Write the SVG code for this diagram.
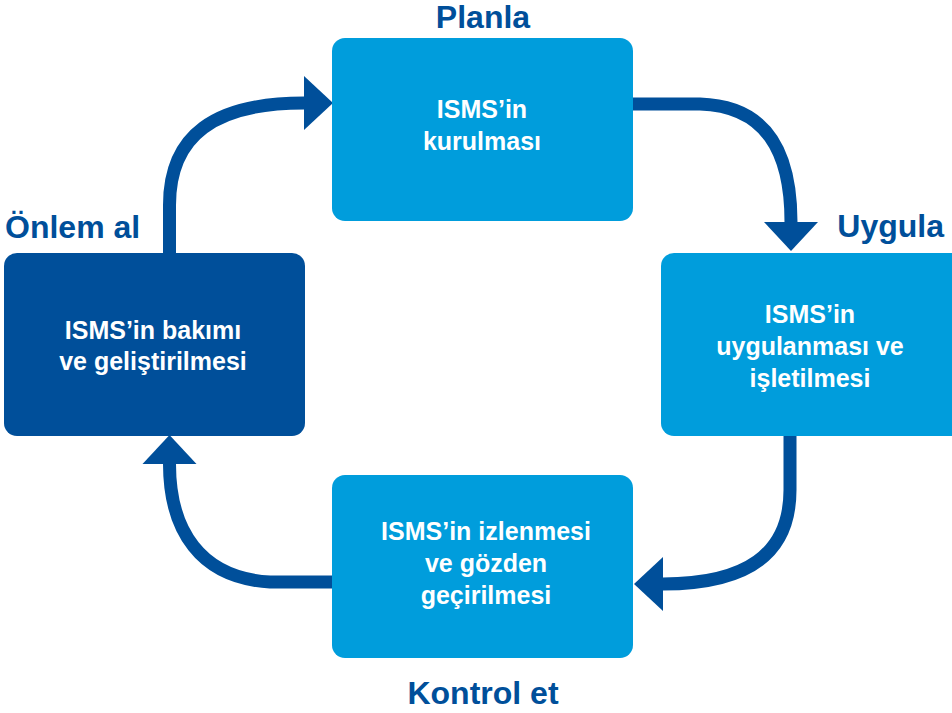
<svg xmlns="http://www.w3.org/2000/svg" width="952" height="713" viewBox="0 0 952 713">
<style>
.box{fill:#009ddc}
.dark{fill:#004f9a}
.t{font-family:"Liberation Sans",Arial,sans-serif;font-weight:bold;font-size:25px;fill:#ffffff;text-anchor:middle}
.lbl{font-family:"Liberation Sans",Arial,sans-serif;font-weight:bold;font-size:32px;fill:#004f9a}
.arr{fill:none;stroke:#004f9a;stroke-width:13;marker-end:url(#head)}
</style>
<defs>
<marker id="head" markerUnits="userSpaceOnUse" markerWidth="30" markerHeight="56" refX="0" refY="27" orient="auto" viewBox="0 0 30 54">
<path d="M0,0 L29,27 L0,54 Z" fill="#004f9a"/>
</marker>
</defs>
<rect width="952" height="713" fill="#ffffff"/>
<g id="connectors">
<path class="arr" d="M169.5,254 L169.5,205 C169.5,135 215,103 304,103"/>
<path class="arr" d="M632,104 L700,104 C765,106 791,150 791,222"/>
<path class="arr" d="M790,435 L790,490 C790,555 745,584 663,584"/>
<path class="arr" d="M333,582 L270,582 C200,578 169.5,530 169.5,464"/>
</g>
<g id="planla">
<rect class="box" x="332" y="38" width="301" height="183" rx="13"/>
<text class="t" x="482" y="118">ISMS’in</text>
<text class="t" x="482" y="150">kurulması</text>
<text class="lbl" x="483" y="28" text-anchor="middle">Planla</text>
</g>
<g id="uygula">
<rect class="box" x="661" y="253" width="304" height="183" rx="13"/>
<text class="t" x="810" y="323">ISMS’in</text>
<text class="t" x="810" y="355">uygulanması ve</text>
<text class="t" x="810" y="387">işletilmesi</text>
<text class="lbl" x="944" y="237" text-anchor="end">Uygula</text>
</g>
<g id="kontrol">
<rect class="box" x="332" y="475" width="301" height="183" rx="13"/>
<text class="t" x="486" y="540">ISMS’in izlenmesi</text>
<text class="t" x="486" y="572">ve gözden</text>
<text class="t" x="486" y="604">geçirilmesi</text>
<text class="lbl" x="483" y="704" text-anchor="middle">Kontrol et</text>
</g>
<g id="onlem">
<rect class="dark" x="4" y="253" width="301" height="183" rx="13"/>
<text class="t" x="153" y="339">ISMS’in bakımı</text>
<text class="t" x="153" y="370">ve geliştirilmesi</text>
<text class="lbl" x="5" y="238">Önlem al</text>
</g>
</svg>
